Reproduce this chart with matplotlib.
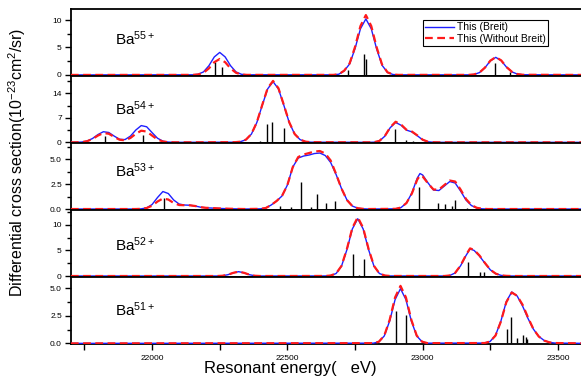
import numpy as np
import matplotlib
matplotlib.use('Agg')
import matplotlib.pyplot as plt
from matplotlib.ticker import MultipleLocator, FormatStrFormatter

plt.rcParams['font.family'] = ['Liberation Sans', 'DejaVu Sans']
plt.rcParams['mathtext.fontset'] = 'custom'
plt.rcParams['mathtext.rm'] = 'Liberation Sans'
plt.rcParams['mathtext.it'] = 'Liberation Sans'

# --- Ba55+
ba55_x = [21700,
          22150, 22170, 22190, 22210, 22230, 22250, 22270, 22290, 22310, 22330, 22350,
          22670, 22690, 22710, 22730, 22750, 22770, 22790, 22810, 22830, 22850, 22870, 22890, 22910,
          23170, 23190, 23210, 23230, 23250, 23270, 23290, 23310, 23330, 23350, 23370,
          23600]
ba55_breit = [0,
              0.02, 0.12, 0.55, 1.68, 3.28, 4.1, 3.28, 1.68, 0.55, 0.12, 0.02,
              0.01, 0.13, 0.75, 2.0, 4.8, 8.4, 10.2, 8.4, 4.7, 1.75, 0.45, 0.08, 0.01,
              0.01, 0.09, 0.43, 1.31, 2.56, 3.2, 2.6, 1.4, 0.55, 0.15, 0.03,
              0]
ba55_nobreit = [0,
                0.01, 0.08, 0.39, 1.19, 2.32, 2.9, 2.32, 1.19, 0.39, 0.08, 0.01,
                0.01, 0.13, 0.78, 2.1, 5.1, 8.9, 10.9, 8.9, 5.0, 1.87, 0.48, 0.08, 0.01,
                0.01, 0.09, 0.44, 1.33, 2.6, 3.25, 2.65, 1.42, 0.56, 0.15, 0.03,
                0]
ba55_lines_x = [22233, 22257, 22723, 22784, 22790, 23269, 23322]
ba55_lines_h = [2.4, 1.45, 0.9, 3.9, 2.85, 2.2, 0.6]

# --- Ba54+
ba54_x = [21700, 21720, 21740, 21760, 21780, 21800, 21820, 21840, 21860, 21880, 21900,
          21920, 21940, 21960, 21980, 22000, 22020, 22040, 22060, 22080, 22100,
          22307, 22327, 22347, 22367, 22387, 22407, 22427, 22447, 22467, 22487, 22507,
          22527, 22547, 22567, 22587,
          22800, 22820, 22840, 22860, 22880, 22900, 22920, 22940, 22960, 22980, 23000,
          23020, 23040, 23060,
          23600]
ba54_breit = [0.0, 0.01, 0.08, 0.37, 1.10, 2.23, 3.04, 2.82, 1.79, 0.87, 0.79,
              1.78, 3.53, 4.80, 4.46, 2.79, 1.18, 0.34, 0.07, 0.01, 0.0,
              0.04, 0.19, 0.77, 2.35, 5.65, 10.6, 15.3, 17.4, 15.3, 10.6, 5.65,
              2.35, 0.77, 0.19, 0.04,
              0.0, 0.04, 0.38, 1.75, 4.2, 5.7, 4.9, 3.5, 3.0, 1.9, 0.7,
              0.15, 0.02, 0.0,
              0.0]
ba54_nobreit = [0.0, 0.01, 0.07, 0.32, 0.96, 1.94, 2.65, 2.46, 1.55, 0.74, 0.59,
                1.25, 2.45, 3.33, 3.09, 1.94, 0.82, 0.23, 0.05, 0.01, 0.0,
                0.04, 0.19, 0.78, 2.38, 5.72, 10.7, 15.5, 17.6, 15.5, 10.7, 5.72,
                2.38, 0.78, 0.19, 0.04,
                0.0, 0.04, 0.4, 1.8, 4.3, 5.9, 5.1, 3.6, 3.1, 2.0, 0.75,
                0.16, 0.02, 0.0,
                0.0]
ba54_lines_x = [21826, 21966, 22399, 22425, 22445, 22486, 22897, 22940, 22965]
ba54_lines_h = [1.9, 2.2, 0.5, 5.3, 5.7, 4.1, 3.8, 0.8, 0.5]

# --- Ba53+
ba53_x = [21700,
          21940, 21960, 21980, 22000, 22020, 22040, 22060, 22080, 22100, 22120, 22140,
          22160, 22180, 22200, 22220, 22240, 22260, 22300, 22340,
          22400, 22420, 22440, 22460, 22480, 22500, 22520, 22540, 22560, 22580, 22600,
          22620, 22640, 22660, 22680, 22700, 22720, 22740, 22760, 22780, 22800,
          22900, 22920, 22940, 22960, 22980, 22990, 23000, 23020, 23040, 23060, 23080,
          23100, 23120, 23140, 23160, 23180, 23200, 23220, 23240,
          23600]
ba53_breit = [0,
              0, 0.02, 0.12, 0.45, 1.15, 1.75, 1.55, 0.9, 0.5, 0.4, 0.38,
              0.3, 0.18, 0.12, 0.1, 0.07, 0.05, 0.02, 0,
              0.02, 0.1, 0.4, 0.8, 1.3, 2.4, 4.2, 5.1, 5.3, 5.4, 5.55,
              5.6, 5.35, 4.65, 3.45, 2.05, 0.92, 0.3, 0.08, 0.02, 0,
              0.02, 0.15, 0.6, 1.6, 3.1, 3.55, 3.4, 2.6, 1.9, 1.85, 2.3,
              2.75, 2.6, 1.8, 0.9, 0.35, 0.1, 0.02, 0,
              0]
ba53_nobreit = [0,
                0, 0.02, 0.1, 0.33, 0.75, 1.05, 0.95, 0.6, 0.4, 0.38, 0.37,
                0.3, 0.18, 0.12, 0.1, 0.07, 0.05, 0.02, 0,
                0.02, 0.1, 0.4, 0.8, 1.3, 2.4, 4.2, 5.2, 5.45, 5.6, 5.75,
                5.8, 5.55, 4.85, 3.5, 2.05, 0.9, 0.3, 0.08, 0.02, 0,
                0.02, 0.15, 0.6, 1.55, 2.95, 3.35, 3.25, 2.55, 1.95, 1.95, 2.4,
                2.85, 2.75, 1.95, 1.0, 0.4, 0.12, 0.03, 0,
                0]
ba53_lines_x = [22045, 22473, 22512, 22550, 22587, 22610, 22641, 22676,
                22987, 23057, 23082, 23110, 23119, 23162]
ba53_lines_h = [1.1, 0.3, 0.2, 2.7, 0.2, 1.5, 0.6, 0.85,
                2.2, 0.6, 0.5, 0.3, 0.9, 0.15]

# --- Ba52+
ba52_x = [21700,
          22240, 22260, 22280, 22300, 22320, 22340, 22360, 22380, 22400,
          22640, 22660, 22680, 22700, 22720, 22740, 22760, 22780, 22800, 22820,
          22840, 22860, 22880,
          23080, 23100, 23120, 23140, 23160, 23175, 23190, 23210, 23230, 23250,
          23270, 23290, 23310, 23330,
          23600]
ba52_breit = [0,
              0, 0.05, 0.25, 0.62, 0.85, 0.62, 0.25, 0.05, 0,
              0.01, 0.09, 0.49, 1.93, 5.15, 9.2, 11.2, 9.2, 5.15, 1.93,
              0.49, 0.09, 0.01,
              0, 0.1, 0.6, 2.0, 4.0, 5.3, 5.0, 3.9, 2.5, 1.2,
              0.45, 0.12, 0.03, 0,
              0]
ba52_nobreit = [0,
                0, 0.05, 0.25, 0.62, 0.85, 0.62, 0.25, 0.05, 0,
                0.01, 0.09, 0.5, 1.98, 5.3, 9.4, 11.5, 9.4, 5.3, 1.98,
                0.5, 0.09, 0.01,
                0, 0.1, 0.62, 2.05, 4.1, 5.4, 5.1, 4.0, 2.55, 1.22,
                0.46, 0.12, 0.03, 0,
                0]
ba52_lines_x = [22743, 22765, 22783, 23168, 23212, 23228]
ba52_lines_h = [4.25, 0.2, 3.3, 2.7, 0.7, 0.7]

# --- Ba51+
ba51_x = [21700,
          22818, 22838, 22858, 22878, 22898, 22918, 22938, 22958, 22978, 22998, 23018,
          23229, 23249, 23269, 23289, 23309, 23329, 23349, 23369, 23389, 23409, 23429,
          23449, 23469, 23489,
          23600]
ba51_breit = [0,
              0.02, 0.14, 0.67, 2.03, 3.96, 4.95, 3.96, 2.03, 0.67, 0.14, 0.02,
              0.03, 0.17, 0.72, 2.02, 3.78, 4.65, 4.29, 3.38, 2.26, 1.29, 0.63,
              0.26, 0.09, 0.03,
              0]
ba51_nobreit = [0,
                0.02, 0.15, 0.70, 2.13, 4.16, 5.2, 4.16, 2.13, 0.70, 0.15, 0.02,
                0.03, 0.17, 0.70, 1.98, 3.72, 4.6, 4.3, 3.5, 2.35, 1.3, 0.62,
                0.25, 0.09, 0.03,
                0]
ba51_lines_x = [22900, 22937, 23310, 23326, 23347, 23372, 23380, 23386]
ba51_lines_h = [2.97, 2.6, 1.3, 2.4, 0.5, 0.8, 0.6, 0.4]

ions = ['55+', '54+', '53+', '52+', '51+']
ion_label_y = [0.47, 0.42, 0.49, 0.39, 0.42]
ylims = [(-0.2, 12.0), (-0.2, 19.0), (-0.1, 6.6), (-0.2, 12.9), (-0.06, 6.0)]
y_major = [5, 7, 2.5, 5, 2.5]
y_fmt = ['%d', '%d', '%.1f', '%d', '%.1f']

panels = [
  (ba55_x, ba55_breit, ba55_nobreit, ba55_lines_x, ba55_lines_h),
  (ba54_x, ba54_breit, ba54_nobreit, ba54_lines_x, ba54_lines_h),
  (ba53_x, ba53_breit, ba53_nobreit, ba53_lines_x, ba53_lines_h),
  (ba52_x, ba52_breit, ba52_nobreit, ba52_lines_x, ba52_lines_h),
  (ba51_x, ba51_breit, ba51_nobreit, ba51_lines_x, ba51_lines_h),
]

fig, axes = plt.subplots(5, 1, sharex=True, figsize=(5.81, 3.76), dpi=100)
fig.subplots_adjust(left=0.122, right=1.007, top=0.976, bottom=0.085, hspace=0)

for i, ax in enumerate(axes):
  x, yb, yn, lx, lh = panels[i]
  ax.vlines(lx, 0, lh, color='black', lw=1.0, zorder=2)
  ax.plot(x, yb, color='#1f1fff', lw=1.0, label='This (Breit)', zorder=3)
  ax.plot(x, yn, color='#ff1a1a', lw=1.6, ls=(0, (3.5, 2.0)), label='This (Without Breit)', zorder=4)

  ax.set_ylim(*ylims[i])
  ax.set_xlim(21700, 23600)
  ax.yaxis.set_major_locator(MultipleLocator(y_major[i]))
  ax.yaxis.set_minor_locator(MultipleLocator(y_major[i] / 2))
  ax.yaxis.set_major_formatter(FormatStrFormatter(y_fmt[i]))
  ax.xaxis.set_major_locator(MultipleLocator(500))
  ax.xaxis.set_minor_locator(MultipleLocator(250))
  ax.tick_params(which='both', direction='out', labelsize=6, width=1.0, pad=2.5)
  ax.tick_params(which='major', length=4)
  ax.tick_params(which='minor', length=3)
  ax.tick_params(axis='x', which='both', length=4, pad=4)
  for s in ax.spines.values():
    s.set_linewidth(1.3)

  ax.text(0.086, ion_label_y[i], 'Ba$^{' + ions[i] + '}$', transform=ax.transAxes,
          fontsize=11, va='baseline', ha='left')

axes[0].legend(loc='upper right', bbox_to_anchor=(0.928, 0.83), fontsize=7.5,
               frameon=True, fancybox=False, edgecolor='black', framealpha=1,
               handlelength=2.8, handletextpad=0.3, borderpad=0.2, labelspacing=0.1,
               borderaxespad=0)
axes[0].get_legend().get_frame().set_linewidth(0.8)

fig.text(290 / 581, 0.02, 'Resonant energy(   eV)', ha='center', va='center', fontsize=12)
fig.text(17 / 581, 0.569, 'Differential cross section(10$^{-23}$cm$^2$/sr)', rotation=90,
         ha='center', va='center', fontsize=11.5)

plt.savefig('out.png', dpi=100)
